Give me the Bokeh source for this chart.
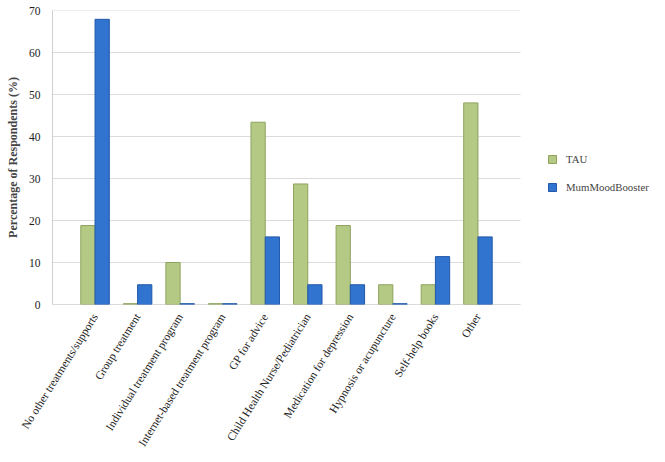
import math
from bokeh.plotting import figure
from bokeh.models import ColumnDataSource, FixedTicker, Legend, LegendItem, Range1d
from bokeh.embed import file_html
from bokeh.resources import INLINE

categories = ["No other treatments/supports", "Group treatment", "Individual treatment program",
              "Internet-based treatment program", "GP for advice", "Child Health Nurse/Pediatrician",
              "Medication for depression", "Hypnosis or acupuncture", "Self-help books", "Other"]
tau = [18.8, 0.2, 10.0, 0.2, 43.4, 28.7, 18.8, 4.7, 4.7, 48.0]
mmb = [67.9, 4.7, 0.2, 0.2, 16.1, 4.7, 4.7, 0.2, 11.4, 16.1]
series_names = ["TAU", "MumMoodBooster"]
y_ticks = [0, 10, 20, 30, 40, 50, 60, 70]

W, H = 657, 454
LEFT, RIGHT, TOP, BOTTOM = 52, 0, 10, 138
frame_w = W - LEFT - RIGHT
n = len(categories)
px_per_unit = 468 / (n + 1)          # plotted area is 468 px wide, from -1 to n
x_end = -1 + frame_w / px_per_unit   # extra room on the right for the legend

idx = list(range(n))
bw = 0.335
src = ColumnDataSource(dict(
    x_tau=[i - bw / 2 for i in idx], x_mmb=[i + bw / 2 for i in idx], tau=tau, mmb=mmb))

FONT = "Liberation Serif"
p = figure(width=W, height=H, output_backend="svg", toolbar_location=None,
           x_range=Range1d(-1, x_end), y_range=Range1d(0, 70),
           min_border_top=TOP, min_border_left=LEFT, min_border_right=RIGHT, min_border_bottom=BOTTOM)
p.outline_line_color = None

# horizontal gridlines and baseline limited to the plotted area
p.segment(x0=[-1] * len(y_ticks), x1=[n] * len(y_ticks), y0=y_ticks, y1=y_ticks,
          line_color="#dcdcdc", line_width=1)
p.segment(x0=[-1], x1=[n], y0=[0], y1=[0], line_color="#c8c8c8", line_width=1)

r1 = p.vbar(x="x_tau", top="tau", width=bw, source=src, fill_color="#b4c984", line_color="#8ea35f", line_width=1)
r2 = p.vbar(x="x_mmb", top="mmb", width=bw, source=src, fill_color="#3074d0", line_color="#2358a8", line_width=1)

p.xaxis.ticker = FixedTicker(ticks=idx)
p.xaxis.major_label_overrides = {i: c for i, c in zip(idx, categories)}
p.xaxis.major_label_orientation = math.radians(58)
p.xaxis.axis_line_color = None
p.yaxis.ticker = FixedTicker(ticks=y_ticks)
p.yaxis.axis_line_color = "#cfcfcf"
p.yaxis.axis_label = "Percentage of Respondents (%)"
p.yaxis.axis_label_text_font = FONT
p.yaxis.axis_label_text_font_style = "bold"
p.yaxis.axis_label_text_font_size = "12px"
p.yaxis.axis_label_standoff = 6
for ax in (p.xaxis, p.yaxis):
    ax.major_label_text_font = FONT
    ax.major_label_text_font_size = "11.5px"
    ax.major_label_text_color = "#222222"
    ax.major_tick_line_color = None
    ax.minor_tick_line_color = None
p.yaxis.major_label_standoff = 6
p.xaxis.major_label_standoff = 4
p.xgrid.grid_line_color = None
p.ygrid.grid_line_color = None

legend = Legend(items=[LegendItem(label=series_names[0], renderers=[r1]),
                       LegendItem(label=series_names[1], renderers=[r2])],
                location=(495, 107))
legend.label_text_font = FONT
legend.label_text_font_size = "10.8px"
legend.glyph_width = 10
legend.glyph_height = 10
legend.label_height = 20
legend.label_standoff = 9
legend.spacing = 8
legend.border_line_color = None
legend.background_fill_alpha = 0
legend.margin = 0
legend.padding = 4
p.add_layout(legend, "center")

open("out.html", "w").write(file_html(p, INLINE))
